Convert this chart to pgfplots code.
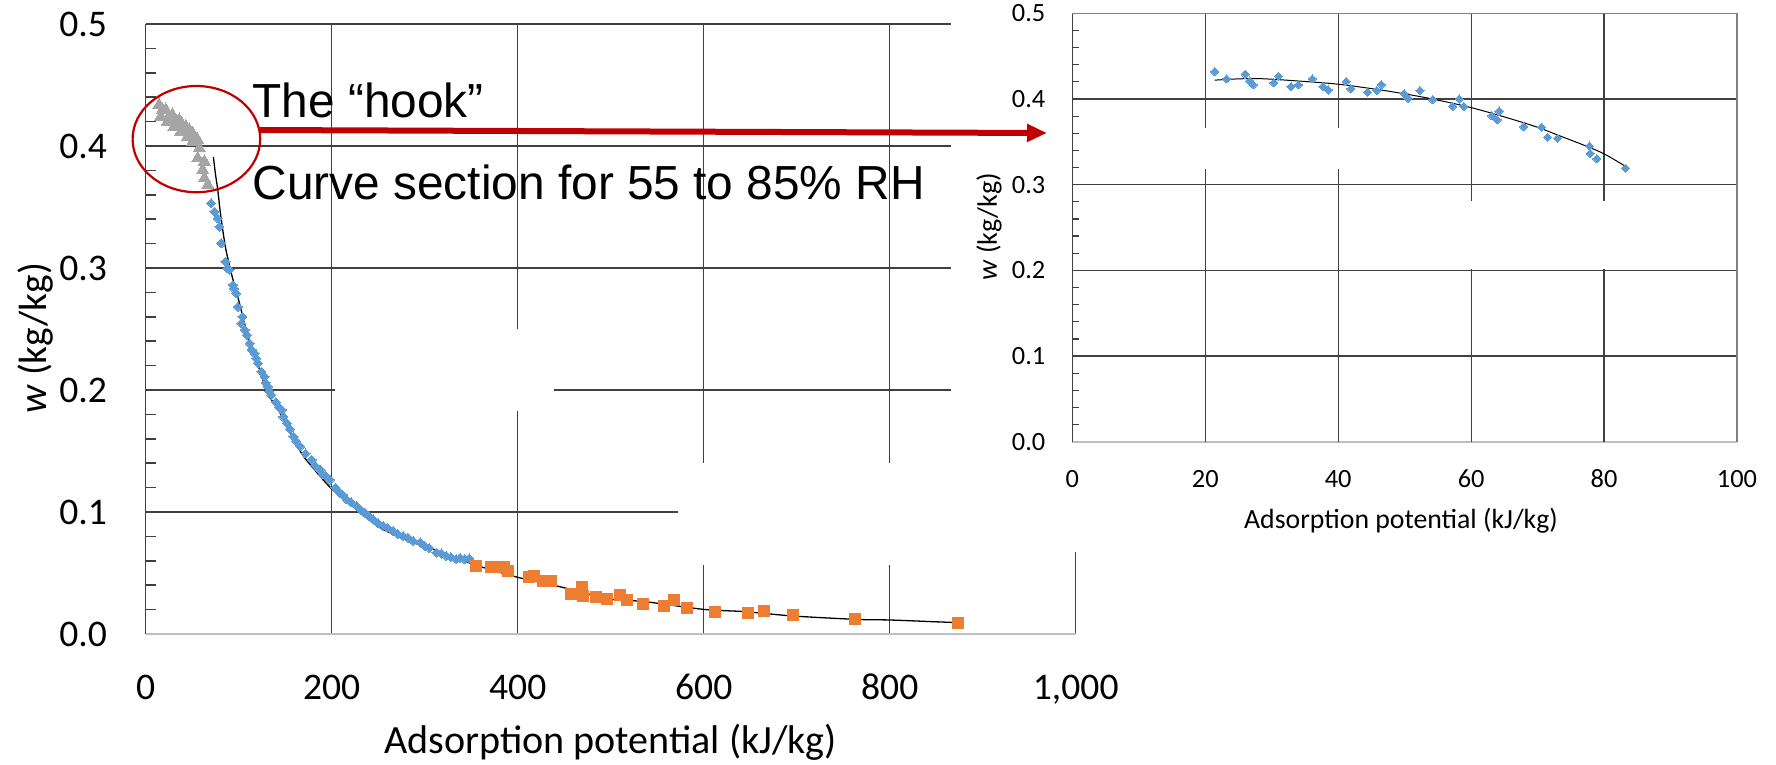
\documentclass[border=0pt]{standalone}
\usepackage{pgfplots}
\pgfplotsset{compat=1.18}
\usepackage{fontspec}
\setmainfont{Carlito}
\newfontfamily\arialfont{Liberation Sans}
\usetikzlibrary{arrows.meta}
\definecolor{xlblue}{HTML}{5B9BD5}
\definecolor{xlorange}{HTML}{ED7D31}
\definecolor{xlgray}{HTML}{A5A5A5}
\definecolor{gridc}{HTML}{404040}
\definecolor{axlight}{HTML}{BFBFBF}
\definecolor{bordergray}{HTML}{808080}
\definecolor{hookred}{HTML}{C00000}

\pgfplotstableread{
x y
14.4 0.4336
18.0 0.4295
21.6 0.4295
16.2 0.4240
25.2 0.4240
28.8 0.4254
23.4 0.4200
32.4 0.4200
36.0 0.4213
30.6 0.4158
39.6 0.4172
43.2 0.4158
37.8 0.4117
46.8 0.4131
50.5 0.4104
45.0 0.4077
52.3 0.4077
55.9 0.4049
50.5 0.4036
57.7 0.3981
55.9 0.3899
63.1 0.3872
61.3 0.3803
63.1 0.3735
66.7 0.3680
}\hookdata

\pgfplotstableread{
x y
70.3 0.3530
73.9 0.3462
77.5 0.3407
79.3 0.3339
81.1 0.3202
85.8 0.3052
88.0 0.3000
90.1 0.2984
93.7 0.2861
95.0 0.2830
97.3 0.2792
99.1 0.2683
102.7 0.2546
104.0 0.2600
106.3 0.2492
109.0 0.2450
111.7 0.2383
114.0 0.2330
117.1 0.2301
119.0 0.2260
120.7 0.2219
124.3 0.2150
127.9 0.2109
129.0 0.2060
131.5 0.2027
133.0 0.1990
135.1 0.1959
140.0 0.1900
143.0 0.1860
146.4 0.1837
148.0 0.1780
151.8 0.1728
155.0 0.1680
158.9 0.1620
162.0 0.1580
166.1 0.1538
172.0 0.1480
178.6 0.1429
182.0 0.1380
187.5 0.1348
190.0 0.1310
193.0 0.1300
198.2 0.1266
204.0 0.1200
208.9 0.1158
212.0 0.1140
216.1 0.1103
221.0 0.1080
226.8 0.1049
231.0 0.1020
235.7 0.0995
240.0 0.0970
244.6 0.0940
250.0 0.0910
255.4 0.0886
260.0 0.0870
266.1 0.0845
271.0 0.0820
276.8 0.0804
282.0 0.0790
287.5 0.0764
295.0 0.0750
300.0 0.0723
305.0 0.0705
312.5 0.0668
318.0 0.0660
323.2 0.0641
328.0 0.0630
333.9 0.0614
338.0 0.0625
342.9 0.0614
348.0 0.0620
}\bluedata

\pgfplotstableread{
x y
355.4 0.0560
371.4 0.0546
380.4 0.0546
384.8 0.0546
389.3 0.0519
412.5 0.0465
417.9 0.0478
426.8 0.0438
435.7 0.0438
457.1 0.0329
469.6 0.0383
470.3 0.0315
483.9 0.0302
496.4 0.0288
509.9 0.0320
517.1 0.0279
535.1 0.0246
556.8 0.0230
567.6 0.0279
582.0 0.0210
611.9 0.0183
647.9 0.0169
664.9 0.0191
695.5 0.0156
762.2 0.0120
873.9 0.0093
}\orangedata

\pgfplotstableread{
x y
72.8 0.391
75.0 0.377
77.5 0.364
80.0 0.347
82.9 0.331
86.0 0.316
90.1 0.302
95.0 0.287
100.9 0.271
106.0 0.255
111.7 0.239
120.0 0.222
131.5 0.197
144.6 0.181
166.0 0.150
180.0 0.136
200.0 0.119
226.8 0.102
251.8 0.0872
287.5 0.0750
309.0 0.0696
351.8 0.0573
400.0 0.0465
448.0 0.0383
496.4 0.0290
537.0 0.0265
600.0 0.0202
645.0 0.0183
695.5 0.0148
764.0 0.0120
800.0 0.0115
847.0 0.0101
874.0 0.0093
}\fitmain

\pgfplotstableread{
x y
21.4 0.4320
23.2 0.4235
26.0 0.4290
26.7 0.4210
27.2 0.4165
30.3 0.4190
31.0 0.4267
32.9 0.4145
34.0 0.4165
36.1 0.4235
37.7 0.4145
38.5 0.4106
41.2 0.4204
41.9 0.4118
44.4 0.4078
45.8 0.4100
46.5 0.4169
49.9 0.4063
50.5 0.4008
52.3 0.4100
54.2 0.3992
57.2 0.3914
58.2 0.4000
58.9 0.3914
63.1 0.3804
63.9 0.3757
64.2 0.3859
67.9 0.3678
70.6 0.3671
71.5 0.3553
73.0 0.3541
77.8 0.3451
77.9 0.3365
78.9 0.3302
83.2 0.3192
}\insetdata

\pgfplotstableread{
x y
21.4 0.4220
25.0 0.4235
28.5 0.4237
34.0 0.4210
40.0 0.4173
46.0 0.4110
50.0 0.4060
54.2 0.4000
60.0 0.3900
65.9 0.3770
70.0 0.3670
73.0 0.3580
77.0 0.3460
80.0 0.3360
83.2 0.3215
}\fitinset

\begin{document}
\begin{tikzpicture}
\useasboundingbox (0,0) rectangle (177.6mm,-76.4mm);
% ---------------- main chart ----------------
\begin{axis}[
  at={(14.57mm,-63.4mm)}, anchor=south west,
  scale only axis, width=93mm, height=61mm,
  xmin=0, xmax=1000, ymin=0, ymax=0.5,
  clip=false,
  axis x line*=bottom, axis y line*=left,
  x axis line style={draw=axlight, line width=0.2mm},
  y axis line style={draw=gridc, line width=0.15mm},
  xtick={0,200,400,600,800,1000},
  ytick={0,0.1,0.2,0.3,0.4,0.5},
  xmajorgrids=true,
  extra y ticks={0.1,0.2,0.3,0.4,0.5}, extra y tick labels={},
  extra y tick style={grid=major},
  major grid style={draw=gridc, line width=0.15mm},
  minor y tick num=4, major tick length=0pt, minor tick length=1mm,
  tick align=inside,
  minor tick style={draw=gridc, line width=0.15mm},
  /pgf/number format/assume math mode=true,
  tick label style={font=\fontsize{10.7}{12}\selectfont, text=black},
  xticklabel style={anchor=base, inner sep=0pt, yshift=-6.55mm,
    /pgf/number format/1000 sep={,}},
  yticklabel style={anchor=east, inner sep=0pt, xshift=-3.8mm,
    /pgf/number format/.cd, fixed, fixed zerofill, precision=1},
  xlabel={Adsorption potential (kJ/kg)},
  xlabel style={font=\fontsize{11.4}{13}\selectfont, at={(rel axis cs:0.5,0)},
    anchor=center, yshift=-10.8mm, inner sep=0pt},
  ylabel={\textit{w} (kg/kg)},
  ylabel style={font=\fontsize{11.2}{13}\selectfont, at={(rel axis cs:-0.119,0.485)},
    anchor=center, inner sep=0pt},
]
\fill[white] (axis cs:204,0.183) rectangle (axis cs:439,0.25);
\fill[white] (axis cs:572,0.0565) rectangle (axis cs:990,0.14);
\fill[white] (axis cs:866,0.067) rectangle (axis cs:1012,0.51);
\addplot[only marks, mark=triangle*, mark size=0.72mm,
  mark options={draw=xlgray, fill=xlgray, line width=0pt}] table {\hookdata};
\addplot[only marks, mark=square*, mark size=0.32mm,
  mark options={rotate=45, draw=xlblue, fill=xlblue, line width=0pt}] table {\bluedata};
\addplot[only marks, mark=square*, mark size=0.55mm,
  mark options={draw=xlorange, fill=xlorange, line width=0pt}] table {\orangedata};
\addplot[black, line width=0.13mm, smooth, no marks] table {\fitmain};
\end{axis}
% ---------------- inset chart ----------------
\begin{axis}[
  at={(107.23mm,-44.17mm)}, anchor=south west,
  scale only axis, width=66.47mm, height=42.84mm,
  xmin=0, xmax=100, ymin=0, ymax=0.5,
  clip=false,
  axis x line*=bottom, axis y line*=left,
  x axis line style={draw=axlight, line width=0.18mm},
  y axis line style={draw=gridc, line width=0.15mm},
  xtick={0,20,40,60,80,100},
  ytick={0,0.1,0.2,0.3,0.4,0.5},
  extra x ticks={20,40,60,80}, extra x tick labels={},
  extra x tick style={grid=major},
  extra y ticks={0.1,0.2,0.3,0.4}, extra y tick labels={},
  extra y tick style={grid=major},
  major grid style={draw=gridc, line width=0.12mm},
  minor y tick num=4, major tick length=0pt, minor tick length=0.7mm,
  tick align=inside,
  minor tick style={draw=gridc, line width=0.12mm},
  /pgf/number format/assume math mode=true,
  tick label style={font=\fontsize{7.5}{9}\selectfont, text=black},
  xticklabel style={anchor=base, inner sep=0pt, yshift=-4.56mm},
  yticklabel style={anchor=east, inner sep=0pt, xshift=-2.63mm,
    /pgf/number format/.cd, fixed, fixed zerofill, precision=1},
  xlabel={Adsorption potential (kJ/kg)},
  xlabel style={font=\fontsize{7.9}{9}\selectfont, at={(rel axis cs:0.4945,0)},
    anchor=center, yshift=-7.93mm, inner sep=0pt},
  ylabel={\textit{w} (kg/kg)},
  ylabel style={font=\fontsize{8}{9}\selectfont, at={(rel axis cs:-0.1253,0.502)},
    anchor=center, inner sep=0pt},
]
\fill[white] (axis cs:8,0.318) rectangle (axis cs:52,0.366);
\fill[white] (axis cs:52,0.202) rectangle (axis cs:90,0.281);
\draw[draw=bordergray, line width=0.15mm] (axis cs:0,0.5) -- (axis cs:100,0.5) -- (axis cs:100,0);
\addplot[only marks, mark=square*, mark size=0.29mm,
  mark options={rotate=45, draw=xlblue, fill=xlblue, line width=0pt}] table {\insetdata};
\addplot[black, line width=0.1mm, smooth, no marks] table {\fitinset};
\end{axis}
% ---------------- annotations ----------------
\draw[hookred, line width=0.22mm] (19.64mm,-13.91mm) ellipse [x radius=6.38mm, y radius=5.31mm];
\draw[hookred, line width=0.6mm, -{Triangle[length=2mm,width=1.7mm]}] (26.0mm,-13.0mm) -- (104.7mm,-13.3mm);
\node[anchor=base west, inner sep=0pt, font=\arialfont\fontsize{13.6}{16}\selectfont] at (25.2mm,-11.7mm) {The “hook”};
\node[anchor=base west, inner sep=0pt, font=\arialfont\fontsize{13.6}{16}\selectfont] at (25.2mm,-19.95mm) {Curve section for 55 to 85\% RH};
\end{tikzpicture}
\end{document}
